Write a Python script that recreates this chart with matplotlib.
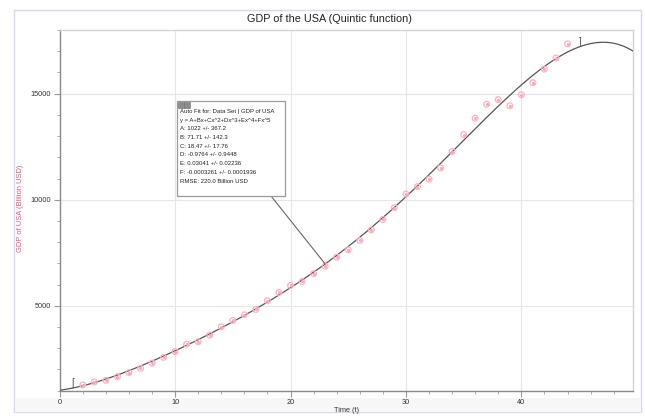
import numpy as np
import matplotlib
matplotlib.use("Agg")
import matplotlib.pyplot as plt
from matplotlib.patches import Rectangle
from matplotlib.ticker import MultipleLocator

# GDP of the USA (billion USD) against time t
t_vals = list(range(2, 45))
gdp_vals = [1270, 1410, 1490, 1660, 1850, 2050, 2300, 2570, 2840, 3190,
            3310, 3620, 4010, 4310, 4580, 4830, 5240, 5630, 5960, 6150,
            6520, 6870, 7290, 7640, 8080, 8580, 9070, 9630, 10270, 10620,
            10965, 11500, 12270, 13070, 13840, 14500, 14720, 14430, 14950,
            15520, 16160, 16680, 17350]

# Quintic fit coefficients: y = A + Bx + Cx^2 + Dx^3 + Ex^4 + Fx^5
coef_names = ["A", "B", "C", "D", "E", "F"]
coef_vals = [1022, 71.71, 18.47, -0.9764, 0.03041, -0.0003261]
coef_errs = ["367.2", "142.3", "17.76", "0.9448", "0.02236", "0.0001936"]
coef_txt = ["1022", "71.71", "18.47", "-0.9764", "0.03041", "-0.0003261"]
rmse_txt = "220.0 Billion USD"
fit_range = (1.0, 45.0)

x_ticks = [0, 10, 20, 30, 40]
y_ticks = [5000, 10000, 15000]

W, H = 645, 417
fig = plt.figure(figsize=(W / 100, H / 100), dpi=100)
fig.patch.set_facecolor("white")

def fx(px):
    return px / W

def fy(py):
    return 1 - py / H

# outer panel
fig.patches.append(Rectangle((fx(14), fy(412)), fx(641) - fx(14), fy(10) - fy(412),
                             transform=fig.transFigure, facecolor="white",
                             edgecolor="#d9d9ee", lw=1.0, zorder=-2))
fig.patches.append(Rectangle((fx(14.5), fy(411.5)), fx(640.5) - fx(14.5), fy(398) - fy(411.5),
                             transform=fig.transFigure, facecolor="#f7f7f7",
                             edgecolor="none", zorder=-1))

ax = fig.add_axes([fx(59.7), fy(390.7), fx(633.3) - fx(59.7), fy(30) - fy(390.7)])
ax.set_zorder(1)
ax.set_facecolor("white")
ax.set_xlim(0, 49.7)
ax.set_ylim(1000, 18000)

def poly(x):
    x = np.asarray(x, dtype=float)
    return sum(c * x ** i for i, c in enumerate(coef_vals))

# grid
ax.set_xticks(x_ticks)
ax.set_yticks(y_ticks)
ax.xaxis.set_minor_locator(MultipleLocator(2))
ax.yaxis.set_minor_locator(MultipleLocator(1000))
ax.grid(True, which="major", color="#e6e6e6", lw=0.8)
ax.set_axisbelow(True)

for side in ["top", "right"]:
    ax.spines[side].set_color("#d4d4d4")
    ax.spines[side].set_linewidth(1.0)
for side in ["left", "bottom"]:
    ax.spines[side].set_color("#8a8a8a")
    ax.spines[side].set_linewidth(1.0)

ax.tick_params(which="major", length=4, width=0.8, color="#999999",
               labelsize=5.3, labelcolor="#333333", pad=2)
ax.tick_params(which="minor", length=2.5, width=0.7, color="#aaaaaa")
for lab in ax.get_xticklabels() + ax.get_yticklabels():
    lab.set_family("Liberation Sans")

# fitted curve
xs = np.linspace(0, 49.7, 400)
ax.plot(xs, poly(xs), color="#555555", lw=0.9, zorder=3)

# data points
ax.scatter(t_vals, gdp_vals, s=17, facecolors="none", edgecolors="#ffb0c2",
           linewidths=0.9, zorder=4)
ax.scatter(t_vals, gdp_vals, s=1.5, color="#ffa6b9", zorder=4)

# fit range brackets
ax.text(fit_range[0], poly(fit_range[0]), "[", ha="left", va="bottom",
        fontsize=7, color="#555555", family="Liberation Sans")
ax.text(fit_range[1], poly(fit_range[1]), "]", ha="left", va="bottom",
        fontsize=7, color="#555555", family="Liberation Sans")

# labels
fig.text(fx(329), fy(18.5), "GDP of the USA (Quintic function)", ha="center",
         va="center", fontsize=7.8, color="#222222", family="Liberation Sans")
fig.text(fx(346), fy(410), "Time (t)", ha="center", va="center",
         fontsize=5.3, color="#333333", family="Liberation Sans")
fig.text(fx(21), fy(208), "GDP of USA (Billion USD)", ha="center", va="center",
         rotation=90, fontsize=5.4, color="#f2506c", family="Liberation Sans")

# fit info box
bx0, bx1, by0, by1 = 177, 285, 101, 196
fig.patches.append(Rectangle((fx(bx0), fy(by1)), fx(bx1) - fx(bx0), fy(by0) - fy(by1),
                             transform=fig.transFigure, facecolor="white",
                             edgecolor="#9a9a9a", lw=0.9, zorder=5))
for ix in (178, 184.5):
    fig.patches.append(Rectangle((fx(ix), fy(108)), fx(5.5), fy(102) - fy(108),
                                 transform=fig.transFigure, facecolor="#8c8c8c",
                                 edgecolor="#6e6e6e", lw=0.4, zorder=6))

lines = ["Auto Fit for: Data Set | GDP of USA",
         "y = A+Bx+Cx^2+Dx^3+Ex^4+Fx^5"]
lines += [f"{n}: {v} +/- {e}" for n, v, e in zip(coef_names, coef_txt, coef_errs)]
lines += [f"RMSE: {rmse_txt}"]
for i, s in enumerate(lines):
    fig.text(fx(180), fy(111.5 + i * 8.7), s, ha="left", va="center",
             fontsize=4.3, color="#222222", family="Liberation Sans", zorder=7)

# leader line from box to the curve
ax.annotate("", xy=(23, poly(23)), xycoords="data",
            xytext=(fx(271), fy(196)), textcoords="figure fraction",
            arrowprops=dict(arrowstyle="-", color="#666666", lw=0.8,
                            shrinkA=0, shrinkB=0), zorder=4)

fig.savefig("out.png", dpi=100)
